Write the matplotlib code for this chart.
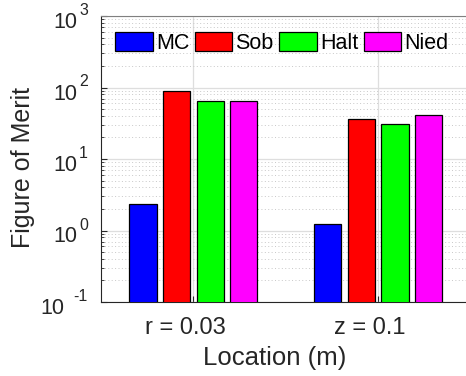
import matplotlib.pyplot as plt
import matplotlib.transforms as mtransforms
import numpy as np
from matplotlib.ticker import LogLocator, FixedLocator, NullFormatter

# Figure of merit for each sampling method at two probe locations
locations = ['r = 0.03', 'z = 0.1']
methods = ['MC', 'Sob', 'Halt', 'Nied']
fom_mc = [2.35, 1.22]
fom_sob = [88.5, 36.6]
fom_halt = [64.0, 31.2]
fom_nied = [64.5, 40.9]
colors = ['#0000ff', '#ff0000', '#00ff00', '#ff00ff']
exponents = [-1, 0, 1, 2, 3]

plt.rcParams['font.family'] = 'Liberation Sans'
txt = '#262626'

fig = plt.figure(figsize=(4.66, 3.76), dpi=100)
ax = fig.add_axes([101/466, 74/376, 369.5/466, 286/376])

x = np.arange(1, len(locations) + 1)
width = 0.147
step = 0.182
series = [fom_mc, fom_sob, fom_halt, fom_nied]
for i, (vals, c, name) in enumerate(zip(series, colors, methods)):
    ax.bar(x + (i - 1.5) * step, vals, width, color=c, edgecolor='black',
           linewidth=0.9, label=name, zorder=3)

ax.set_yscale('log')
ax.set_ylim(10.0 ** exponents[0], 10.0 ** exponents[-1])
ax.set_xlim(0.5, 2.5)
ax.set_xticks(x)
ax.set_xticklabels(locations)
ax.yaxis.set_major_locator(FixedLocator([10.0 ** e for e in exponents]))
ax.yaxis.set_major_formatter(NullFormatter())
ax.yaxis.set_minor_locator(LogLocator(base=10, subs=np.arange(2, 10)))
ax.yaxis.set_minor_formatter(NullFormatter())

ax.grid(True, which='major', color='#dedede', linewidth=0.9, zorder=0)
ax.grid(True, which='minor', axis='y', color='#c8c8c8', linestyle=(0, (1, 2.5)),
        linewidth=0.7, zorder=0)
ax.set_axisbelow(True)

ax.tick_params(axis='both', which='both', direction='in',
               colors=txt, labelcolor=txt)
ax.tick_params(axis='y', which='major', length=4)
ax.tick_params(axis='y', which='minor', length=2)
ax.tick_params(axis='x', which='major', length=4, pad=11, labelsize=17)
for s in ['left', 'bottom']:
    ax.spines[s].set_color(txt)
ax.spines['top'].set_color('#808080')
ax.spines['right'].set_visible(False)

# y tick labels as "10" with a raised exponent
ylab = ax.get_yaxis_transform()
for e in exponents:
    off = mtransforms.ScaledTranslation(-13/100, 1/100, fig.dpi_scale_trans)
    sup = ax.text(0, 10.0 ** e, str(e), transform=ylab + off, ha='right',
                  va='baseline', fontsize=11.5, color=txt)
    gap = 9 if e < 0 else 2
    ax.annotate('10', xy=(0, 0), xycoords=sup, xytext=(-gap * 0.72, -10 * 0.72),
                textcoords='offset points', ha='right', va='baseline',
                fontsize=15.5, color=txt)

# x tick labels sit a little left of their ticks
shift = mtransforms.ScaledTranslation(-8/100, 0, fig.dpi_scale_trans)
for lbl in ax.get_xticklabels():
    lbl.set_transform(lbl.get_transform() + shift)

ax.set_xlabel('Location (m)', fontsize=18.5, color=txt)
ax.xaxis.set_label_coords(0.471, -0.155)
ax.set_ylabel('Figure of Merit', fontsize=18, color=txt)
ax.yaxis.set_label_coords(-0.178, 0.472)

ax.legend(loc='upper left', bbox_to_anchor=(115/466, 1 - 32/376),
          bbox_transform=fig.transFigure, ncol=4, frameon=False, fontsize=15.5,
          handlelength=1.75, handleheight=1.0, handletextpad=0.15,
          columnspacing=0.25, borderpad=0, borderaxespad=0)

fig.savefig('out.png', dpi=100)
